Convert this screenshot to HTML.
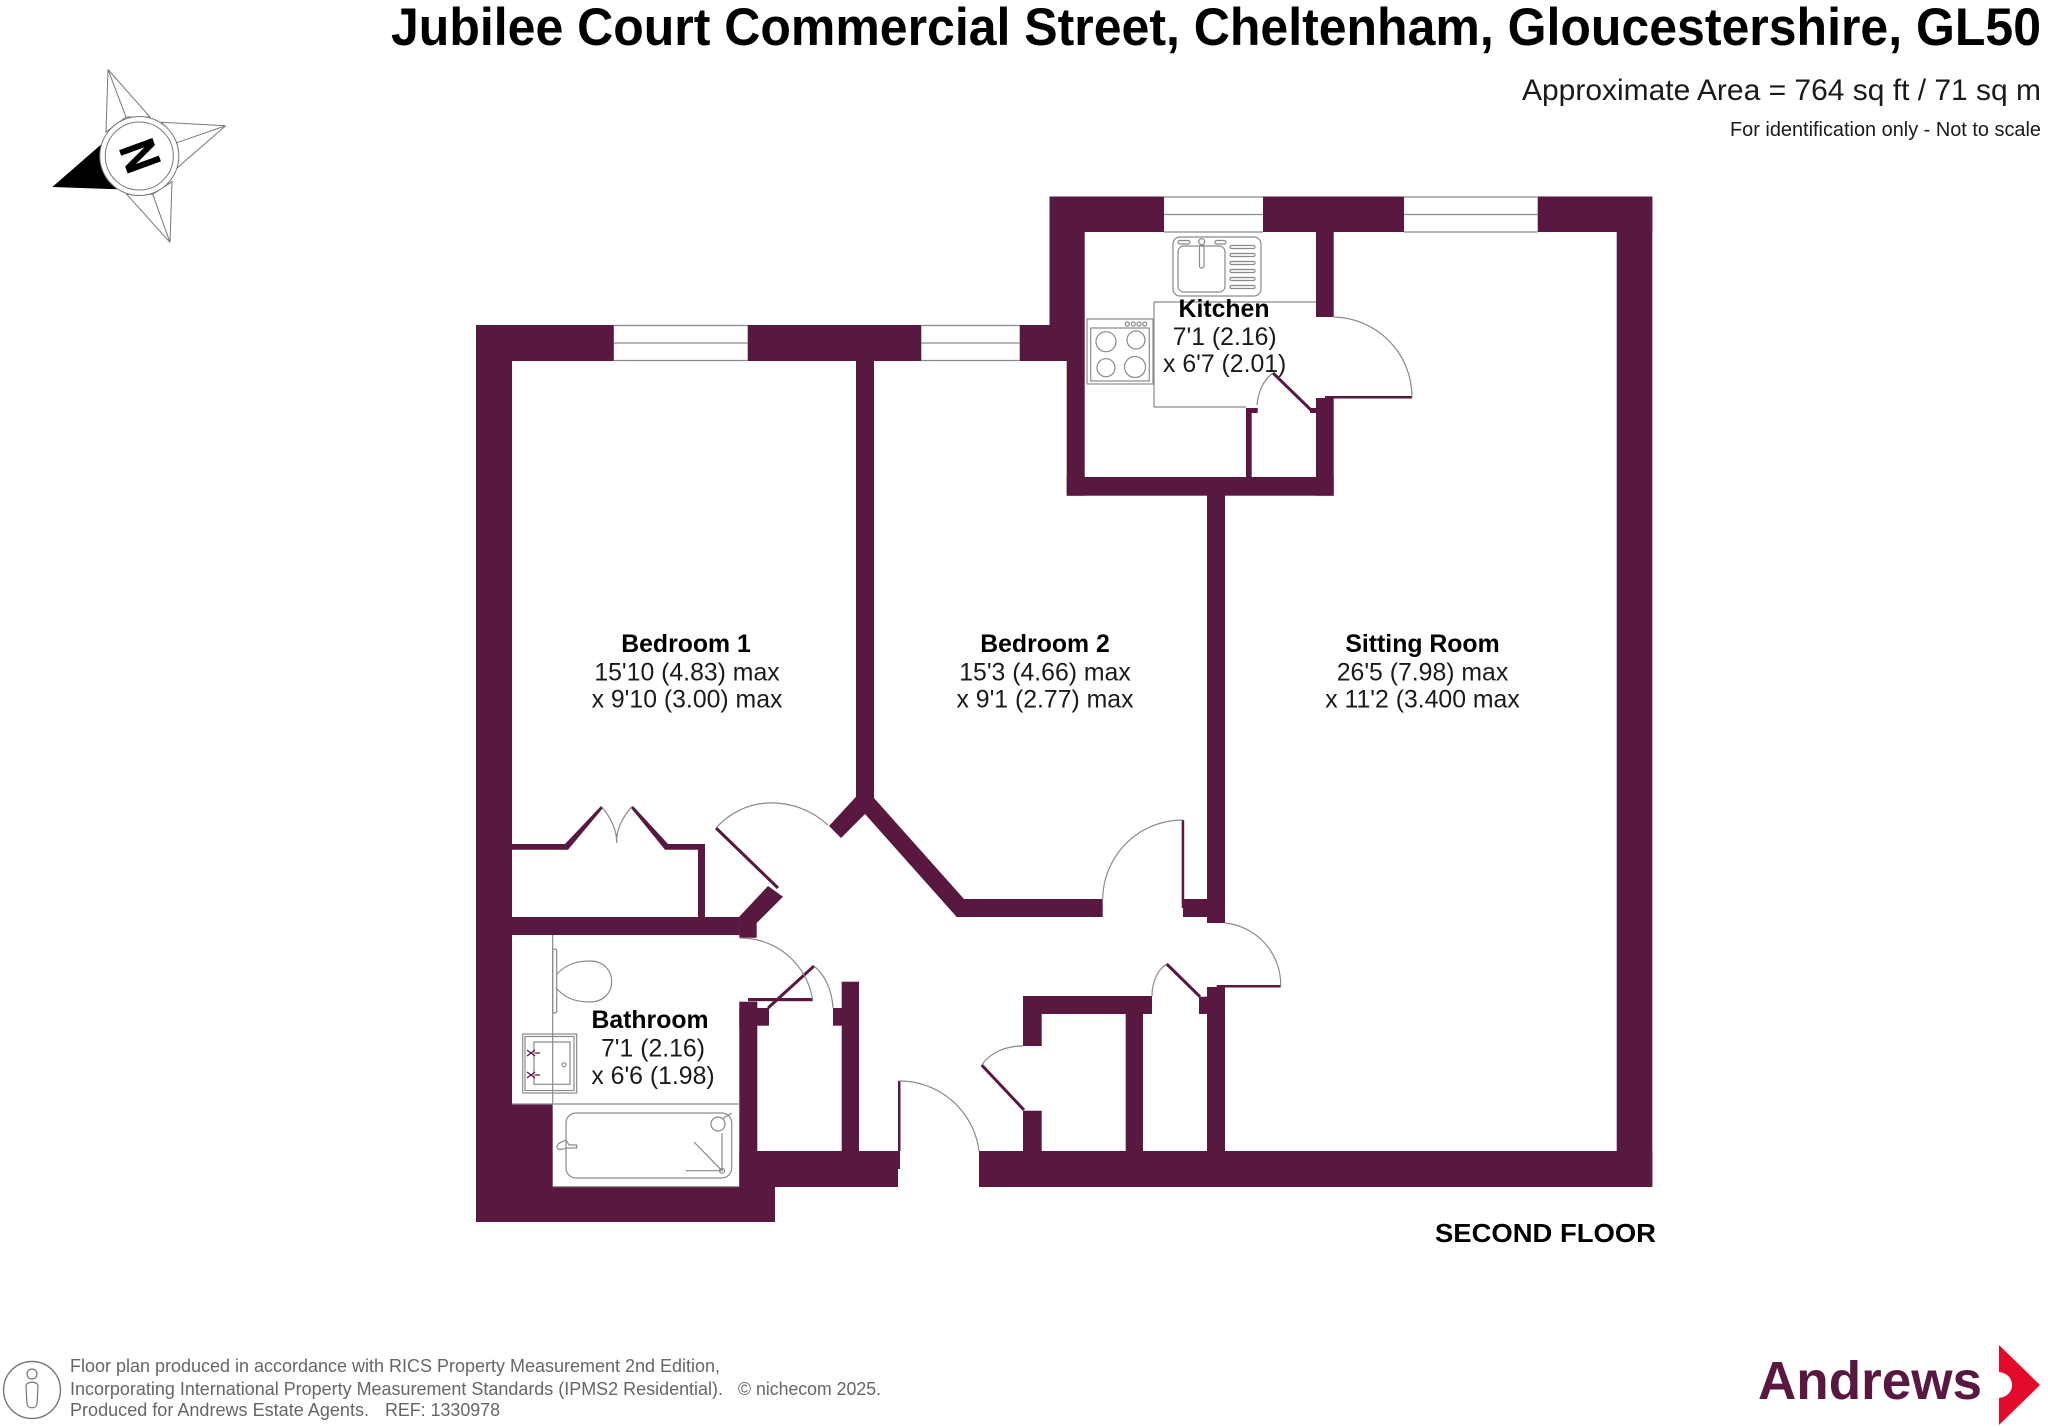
<!DOCTYPE html>
<html><head><meta charset="utf-8"><style>
html,body{margin:0;padding:0;background:#fff;width:2048px;height:1427px;overflow:hidden}
svg{display:block;font-family:"Liberation Sans",sans-serif}
.l{fill:#1a1a1a;font-size:24.8px;text-anchor:middle}
.b{fill:#000;font-size:24.8px;font-weight:bold;text-anchor:middle}
.f{fill:#666;font-size:18.5px}
.g{fill:none;stroke:#8a8a8a;stroke-width:1.2}
.w{fill:#581840}
.t{stroke:#581840;fill:none;stroke-width:3}
</style></head><body>
<svg width="2048" height="1427" viewBox="0 0 2048 1427" xmlns="http://www.w3.org/2000/svg">
<rect width="2048" height="1427" fill="#fff"/>
<text x="391" y="45" font-size="53" font-weight="bold" fill="#000" textLength="1650" lengthAdjust="spacingAndGlyphs">Jubilee Court Commercial Street, Cheltenham, Gloucestershire, GL50</text>
<text x="1522" y="100" font-size="30" fill="#1a1a1a" textLength="519" lengthAdjust="spacingAndGlyphs">Approximate Area = 764 sq ft / 71 sq m</text>
<text x="1730" y="136" font-size="20.5" fill="#1a1a1a" textLength="311" lengthAdjust="spacingAndGlyphs">For identification only - Not to scale</text>

<!-- compass -->
<g fill="#fff" stroke="#777" stroke-width="1">
<path d="M108 69.5L106 132L126 117ZM108 69.5L150 117L126 117Z"/>
<path d="M225.7 125.7L161.7 122.3L177 142.7ZM225.7 125.7L177 168L177 142.7Z"/>
<path d="M170 242.3L172 181.7L152.7 194.3ZM170 242.3L126.7 194.3L152.7 194.3Z"/>
</g>
<path d="M52.3 187L101.7 144L116.7 189.3Z" fill="#000"/>
<circle cx="139.3" cy="156" r="39.5" fill="#fff" stroke="#777" stroke-width="1"/>
<circle cx="139.3" cy="156" r="34" fill="#fff" stroke="#777" stroke-width="1"/>
<text transform="translate(139.3 156) rotate(-110) scale(.82 1)" x="0" y="18" font-size="50" font-weight="bold" text-anchor="middle" fill="#000" stroke="#000" stroke-width="1">N</text>

<!-- walls -->
<g class="w">
<rect x="1049.5" y="196.5" width="602.8" height="35.5"/>
<rect x="1049.5" y="196.5" width="35.2" height="164.5"/>
<rect x="1066.7" y="361" width="18" height="134.7"/>
<rect x="476" y="325" width="590.7" height="36"/>
<rect x="476" y="325" width="36" height="897"/>
<rect x="1616.7" y="196.5" width="35.6" height="990.5"/>
<rect x="979" y="1151" width="673.3" height="36"/>
<rect x="1316" y="232" width="17.7" height="85"/>
<rect x="1316" y="398" width="17.7" height="97.7"/>
<rect x="1310" y="408" width="8" height="5"/>
<rect x="1066.7" y="477" width="267" height="18.7"/>
<rect x="1246" y="408" width="5.7" height="69"/>
<rect x="1246" y="408" width="11.7" height="5"/>
<rect x="1207" y="495" width="18" height="428"/>
<rect x="1207" y="987" width="18" height="200"/>
<rect x="1216.7" y="985" width="64" height="2.5"/>
<rect x="1325" y="396" width="87" height="2.5"/>
<!-- bedroom divider + diagonals -->
<rect x="856" y="361" width="18" height="437"/>
<path d="M856.7 796L829 826L841 838L865 814L956.7 917H1102.7V899H964L874 798Z"/>
<rect x="1183" y="899" width="24" height="18"/>
<rect x="1181.7" y="820" width="2.5" height="88"/>
<!-- closet -->
<rect x="1023" y="996" width="129" height="18"/>
<rect x="1023" y="996" width="18.7" height="50"/>
<rect x="1023" y="1110.7" width="18.7" height="41"/>
<rect x="1125.7" y="1014" width="17.3" height="138"/>
<rect x="1199" y="996.7" width="9" height="17.3"/>
<!-- bottom left -->
<rect x="476" y="1186.7" width="299" height="35.3"/>
<rect x="476" y="1104" width="76.7" height="118"/>
<rect x="739.3" y="1151" width="158.7" height="36"/>
<rect x="898" y="1151" width="2" height="18"/>
<rect x="898" y="1081" width="2.5" height="70"/>
<rect x="841.7" y="981.7" width="17.3" height="170"/>
<rect x="739.3" y="1001.7" width="18" height="186"/>
<rect x="739.3" y="1008" width="29.7" height="17.7"/>
<rect x="833" y="1008" width="9" height="17.7"/>
<rect x="748" y="998" width="64.7" height="3.2"/>
<!-- bedroom 1 lower wall -->
<rect x="512" y="917" width="227.3" height="18"/>
<path d="M739 917L768 886L783 896.7L756.7 923V937.7H739.3Z"/>
<!-- wardrobe -->
<path d="M512 844H565L601 806L603 808L568 849.7H512Z"/>
<path d="M631 808L633 806L668 844H705V917H698V849.7H665Z"/>
</g>
<path d="M716 828L778 888" class="t"/>
<path d="M768 1008L814 966" class="t"/>
<path d="M1311 410L1273 373" class="t"/>
<path d="M1200 996.7L1166.7 964" class="t"/>
<path d="M1024 1110L981.7 1065" class="t"/>

<!-- windows -->
<g fill="#fff">
<rect x="1164" y="196.5" width="99" height="35.5"/>
<rect x="1404" y="196.5" width="133.7" height="35.5"/>
<rect x="613.8" y="325" width="133.9" height="36"/>
<rect x="921.3" y="325" width="98.4" height="36"/>
</g>

<!-- door arcs -->
<g class="g">
<path d="M1333.7 317A80 80 0 0 1 1412 397"/>
<path d="M1273 373C1263 380 1258 393 1257 405"/>
<path d="M1183 820A80 80 0 0 0 1102.7 899"/>
<path d="M1225 923A62 62 0 0 1 1280.7 985"/>
<path d="M1166.7 964C1157 970 1152 983 1152 996"/>
<path d="M1023 1046C1005 1046 990 1053 981.7 1065"/>
<path d="M899 1081A80 80 0 0 1 979 1151"/>
<path d="M828 825C795 795 745 795 716 828"/>
<path d="M740 938A73 73 0 0 1 812.7 1000"/>
<path d="M814 966C825 975 832 990 833 1008"/>
<path d="M601.7 806.7C611 818 617 830 616.7 843C616 830 622 818 631.7 806.7"/>
<!-- windows -->
<path d="M1164 197H1263M1164 214.5H1263M1164 232H1263"/>
<path d="M1404 197H1537.7M1404 214.5H1537.7M1404 232H1537.7"/>
<path d="M613.8 325.5H747.7M613.8 343H747.7M613.8 360.5H747.7"/>
<path d="M921.3 325.5H1019.7M921.3 343H1019.7M921.3 360.5H1019.7"/>
<!-- kitchen -->
<path d="M1154 407V302H1316M1154 407H1246"/>
<rect x="1173" y="237" width="88" height="59" rx="7"/>
<rect x="1178" y="246" width="47" height="46" rx="6"/>
<circle cx="1201.7" cy="241.7" r="3"/>
<rect x="1199.5" y="245" width="4.5" height="23" rx="2"/>
<rect x="1178" y="240.5" width="12" height="3.5" rx="1.7"/>
<rect x="1215" y="240.5" width="11" height="3.5" rx="1.7"/>
<rect x="1230" y="245.5" width="25" height="3" rx="1.5"/>
<rect x="1230" y="253.5" width="25" height="3" rx="1.5"/>
<rect x="1230" y="261.5" width="25" height="3" rx="1.5"/>
<rect x="1230" y="269.5" width="25" height="3" rx="1.5"/>
<rect x="1230" y="277.5" width="25" height="3" rx="1.5"/>
<rect x="1230" y="285.5" width="25" height="3" rx="1.5"/>
<rect x="1087" y="319" width="66" height="65"/>
<rect x="1090.7" y="328" width="58.6" height="53"/>
<circle cx="1106" cy="341.7" r="10"/><circle cx="1136" cy="340" r="9"/>
<circle cx="1106" cy="367.7" r="9"/><circle cx="1135" cy="367" r="10.5"/>
<circle cx="1127.3" cy="324" r="2"/><circle cx="1133.3" cy="324" r="2"/><circle cx="1139" cy="324" r="2"/><circle cx="1144.7" cy="324" r="2"/>
<!-- bathroom -->
<path d="M552.7 935V1104M512 1104H739.3M552.7 1186.7H739.3"/>
<rect x="552.7" y="949" width="4" height="64" rx="2"/>
<path d="M556 975C565 965 575 961 590 961C603 961 611.7 970 611.7 981.5C611.7 993 603 1002 590 1002C575 1002 565 998 556 988"/>
<rect x="522.7" y="1034" width="54" height="59"/>
<rect x="525" y="1036.5" width="49" height="54"/>
<rect x="534" y="1042" width="36" height="42.3"/>
<circle cx="564" cy="1064.7" r="2"/>
<rect x="566" y="1113" width="165.7" height="65" rx="10"/>
<circle cx="718" cy="1124" r="7"/>
<path d="M722 1119L731.7 1113"/>
<path d="M722 1133V1170.7M686 1170.7H722L694 1142"/>
<circle cx="722" cy="1170.7" r="2.5"/>
<path d="M557 1147C557 1143 562 1142 566 1140L569 1145H576.7V1148H566C562 1150 557 1150 557 1147Z"/>
</g>
<path d="M527 1050L535 1056M535 1050L527 1056M535 1053H540M527 1072L535 1078M535 1072L527 1078M535 1075H540" fill="none" stroke="#581840" stroke-width="1.3"/>

<!-- room labels -->
<text class="b" x="686" y="652">Bedroom 1</text>
<text class="l" x="687" y="680.5">15'10 (4.83) max</text>
<text class="l" x="687" y="707.5">x 9'10 (3.00) max</text>
<text class="b" x="1045" y="652">Bedroom 2</text>
<text class="l" x="1045" y="680.5">15'3 (4.66) max</text>
<text class="l" x="1045" y="707.5">x 9'1 (2.77) max</text>
<text class="b" x="1422.5" y="652">Sitting Room</text>
<text class="l" x="1422.5" y="680.5">26'5 (7.98) max</text>
<text class="l" x="1422.5" y="707.5">x 11'2 (3.400 max</text>
<text class="b" x="1224" y="317">Kitchen</text>
<text class="l" x="1224.7" y="345">7'1 (2.16)</text>
<text class="l" x="1224.7" y="372">x 6'7 (2.01)</text>
<text class="b" x="650" y="1028">Bathroom</text>
<text class="l" x="653" y="1056.5">7'1 (2.16)</text>
<text class="l" x="653" y="1084">x 6'6 (1.98)</text>
<text x="1435" y="1242" font-size="26" font-weight="bold" fill="#000" textLength="221" lengthAdjust="spacingAndGlyphs">SECOND FLOOR</text>

<!-- footer -->
<circle cx="32" cy="1390" r="28.5" fill="none" stroke="#777" stroke-width="1.4"/>
<g fill="none" stroke="#777" stroke-width="1.2">
<circle cx="32" cy="1374" r="5"/>
<path d="M26 1386C26 1381 38 1381 38 1386L37 1404C36 1409 28 1409 27 1404Z"/>
</g>
<text class="f" x="70" y="1372" textLength="650" lengthAdjust="spacingAndGlyphs">Floor plan produced in accordance with RICS Property Measurement 2nd Edition,</text>
<text class="f" x="70" y="1395" textLength="653" lengthAdjust="spacingAndGlyphs">Incorporating International Property Measurement Standards (IPMS2 Residential).</text>
<text class="f" x="738" y="1395" textLength="143" lengthAdjust="spacingAndGlyphs">© nichecom 2025.</text>
<text class="f" x="70" y="1416" textLength="299" lengthAdjust="spacingAndGlyphs">Produced for Andrews Estate Agents.</text>
<text class="f" x="385" y="1416" textLength="115" lengthAdjust="spacingAndGlyphs">REF: 1330978</text>

<!-- logo -->
<text x="1758" y="1399" font-size="54" font-weight="bold" fill="#581840" textLength="224" lengthAdjust="spacingAndGlyphs">Andrews</text>
<path d="M1999 1345L2040 1385L1999 1425V1398C2007 1397 2012 1392 2012 1385C2012 1378 2007 1373 1999 1372Z" fill="#e30a2c"/>
</svg>
</body></html>
